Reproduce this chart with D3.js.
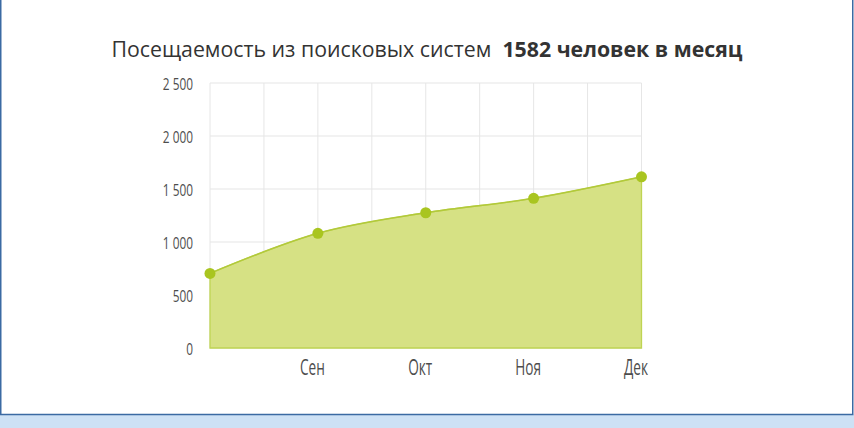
<!DOCTYPE html>
<html><head><meta charset="utf-8">
<script src="https://cdn.jsdelivr.net/npm/d3@7/dist/d3.min.js"></script>
<style>
html,body{margin:0;padding:0;background:#fff;}
svg{display:block;}
</style></head>
<body>
<svg id="c" width="854" height="428"></svg>
<script>
const months = ["Авг", "Сен", "Окт", "Ноя", "Дек"];
const monthLabels = ["", "Сен", "Окт", "Ноя", "Дек"];
const visits = [704, 1082, 1276, 1412, 1615];
const yTicks = [0, 500, 1000, 1500, 2000, 2500];
const yTickLabels = ["0", "500", "1 000", "1 500", "2 000", "2 500"];
const titleText = "Посещаемость из поисковых систем";
const titleBold = "1582 человек в месяц";

const svg = d3.select("#c");
const W = 854, H = 428;

// frame
svg.append("rect").attr("x", 0).attr("y", 414.5).attr("width", W).attr("height", H - 414.5).attr("fill", "#cde1f5");
svg.append("rect").attr("x", 0.75).attr("y", -2).attr("width", 852).attr("height", 416.5)
  .attr("fill", "#fff").attr("stroke", "#3b6aa3").attr("stroke-width", 1.5);

const x = d3.scalePoint().domain(months).range([210, 641.5]);
const y = d3.scaleLinear().domain([0, 2500]).range([348, 83]);

// grid
const step = x.step();
const g = svg.append("g");
const vgrid = [];
months.forEach((m, i) => { vgrid.push(x(m)); if (i < months.length - 1) vgrid.push(x(m) + step / 2); });
g.selectAll("line.v").data(vgrid).enter().append("line")
  .attr("x1", d => d).attr("x2", d => d).attr("y1", y(2500)).attr("y2", y(0))
  .attr("stroke", "#e6e6e6").attr("stroke-width", 1);
g.selectAll("line.h").data(yTicks).enter().append("line")
  .attr("x1", 210).attr("x2", 641.5).attr("y1", d => y(d)).attr("y2", d => y(d))
  .attr("stroke", "#e6e6e6").attr("stroke-width", 1.2);

const labelFont = "'Open Sans','Noto Sans',sans-serif";

// y axis
const yAxis = d3.axisLeft(y).tickValues(yTicks).tickSize(0).tickPadding(0)
  .tickFormat((d, i) => yTickLabels[i]);
const ya = svg.append("g").attr("transform", "translate(193,1.5)").call(yAxis);
ya.select(".domain").remove();
ya.selectAll("text").attr("font-family", labelFont)
  .attr("font-size", 16).attr("fill", "#4d4d4d").attr("x", 0).attr("transform", "scale(0.74,1)");

// x axis
const xAxis = d3.axisBottom(x).tickSize(0).tickPadding(0).tickFormat((d, i) => monthLabels[i]);
const xa = svg.append("g").attr("transform", "translate(-6,359)").call(xAxis);
xa.select(".domain").remove();
xa.selectAll("text").attr("font-family", labelFont)
  .attr("font-size", 22).attr("fill", "#4d4d4d").attr("transform", "scale(0.62,1)");

// area
const data = months.map((m, i) => ({m, v: visits[i]}));
const curve = d3.curveCardinal.tension(0);
const area = d3.area().x(d => x(d.m)).y0(y(0)).y1(d => y(d.v)).curve(curve);
svg.append("path").datum(data).attr("d", area).attr("fill", "#d6e184").attr("stroke", "#bfd453").attr("stroke-width", 1.3);
const line = d3.line().x(d => x(d.m)).y(d => y(d.v)).curve(curve);
svg.append("path").datum(data).attr("d", line).attr("fill", "none").attr("stroke", "#b2c93a").attr("stroke-width", 1.5);

svg.selectAll("circle.p").data(data).enter().append("circle")
  .attr("cx", d => x(d.m)).attr("cy", d => y(d.v)).attr("r", 5.5).attr("fill", "#a9c520");

// title
const t = svg.append("text").attr("x", 427).attr("y", 56.5).attr("text-anchor", "middle")
  .attr("font-family", "'Open Sans',sans-serif").attr("font-size", 21.3).attr("fill", "#333")
  .attr("xml:space", "preserve");
t.append("tspan").text(titleText + "  ");
t.append("tspan").attr("font-weight", "bold").text(titleBold);
</script>
</body></html>
